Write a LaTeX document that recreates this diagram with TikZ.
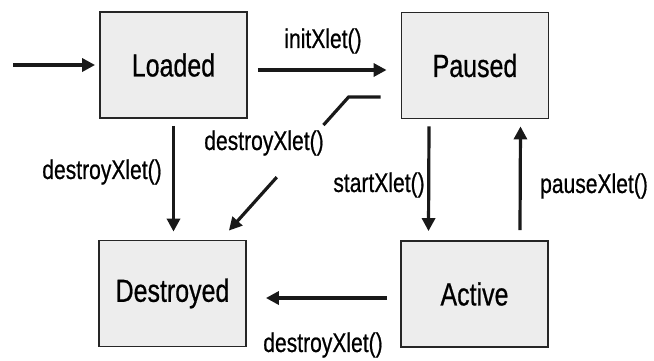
\documentclass[tikz,border=0pt]{standalone}
\usepackage{fontspec}
\setmainfont{Liberation Sans}[FakeStretch=0.78,FakeBold=0.6]
\usetikzlibrary{arrows.meta,calc}
\begin{document}
\begin{tikzpicture}[x=1pt,y=-1pt,
  state/.style={draw=black!85,line width=1.8pt,fill=black!7,minimum width=147pt,minimum height=106pt,inner sep=0pt,font=\fontsize{32}{36}\selectfont},
  lbl/.style={inner sep=0pt,font=\fontsize{27}{30}\selectfont},
  conn/.style={line width=3.2pt,black!90},
  tr/.style={conn,-{Triangle[length=13pt,width=13pt]}}]
\useasboundingbox (0,0) rectangle (654,360);
\node[state] (L) at (173.5,65) {Loaded};
\node[state] (P) at (475,65.5) {Paused};
\node[state] (D) at (172.5,293.5) {Destroyed};
\node[state] (A) at (474.5,294) {Active};
\coordinate (in) at (13,65);
\draw[tr] (in) -- ([xshift=-4pt]L.west);
\draw[tr] ([xshift=10pt,yshift=-5pt]L.east) -- ([xshift=-14pt,yshift=-4.5pt]P.west);
\draw[tr] ([yshift=-7pt]L.south) -- ([yshift=8pt]L.south |- D.north);
\draw[tr] ([xshift=-46pt,yshift=-7pt]P.south) -- ([xshift=-46pt,yshift=9pt]A.north);
\draw[tr] ([xshift=45.5pt,yshift=10pt]A.north) -- ([xshift=45.5pt,yshift=-7pt]P.south);
\draw[tr] ([xshift=-13pt,yshift=-4pt]A.west) -- ([xshift=19pt,yshift=-4.5pt]D.east);
\coordinate (ds) at ([xshift=-20pt,yshift=-31.5pt]P.west);
\coordinate (db) at ([xshift=-52pt,yshift=-31.5pt]P.west);
\coordinate (dt) at ([xshift=-18pt,yshift=9pt]D.north east);
\coordinate (g1) at ($(db)!0.21!(dt)$);
\coordinate (g2) at ($(db)!0.6!(dt)$);
\draw[conn] (ds) -- (db) -- (g1);
\draw[tr] (g2) -- (dt);
\node[lbl] (l1) at (323,41) {initXlet()};
\node[lbl] (l2) at (102,172) {destroyXlet()};
\node[lbl] (l3) at (264,143) {destroyXlet()};
\node[lbl] (l4) at (379,185) {startXlet()};
\node[lbl] (l5) at (594,186) {pauseXlet()};
\node[lbl] (l6) at (323,345) {destroyXlet()};
\end{tikzpicture}
\end{document}
